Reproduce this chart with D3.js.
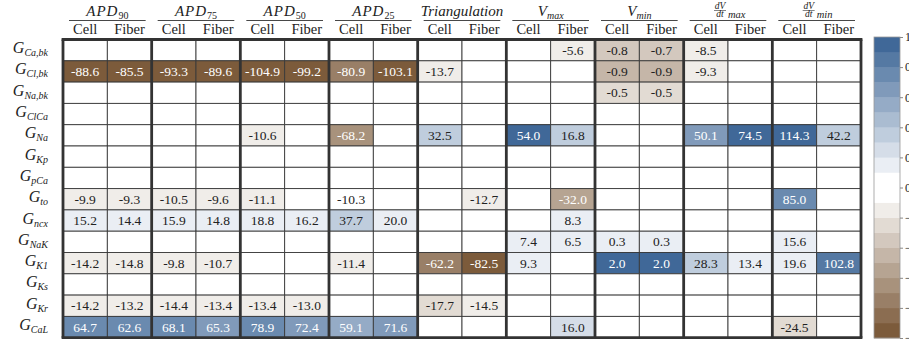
<!DOCTYPE html>
<html><head><meta charset="utf-8">
<script src="https://cdn.jsdelivr.net/npm/d3@7"></script>
<style>body{margin:0;background:#fff}svg{display:block}</style>
</head><body>
<svg id="c" width="909" height="345"></svg>
<script>
// ---------- data ----------
const rows = ["Ca,bk","Cl,bk","Na,bk","ClCa","Na","Kp","pCa","to","ncx","NaK","K1","Ks","Kr","CaL"];
const groups = ["APD90","APD75","APD50","APD25","Triangulation","Vmax","Vmin","dVdtmax","dVdtmin"];
const subCols = ["Cell","Fiber"];
// values per row: 18 columns (group x Cell/Fiber); null = blank
const values = [
  [null,null, null,null, null,null, null,null, null,null, null,-5.6, -0.8,-0.7, -8.5,null, null,null],
  [-88.6,-85.5, -93.3,-89.6, -104.9,-99.2, -80.9,-103.1, -13.7,null, null,null, -0.9,-0.9, -9.3,null, null,null],
  [null,null, null,null, null,null, null,null, null,null, null,null, -0.5,-0.5, null,null, null,null],
  [null,null, null,null, null,null, null,null, null,null, null,null, null,null, null,null, null,null],
  [null,null, null,null, -10.6,null, -68.2,null, 32.5,null, 54.0,16.8, null,null, 50.1,74.5, 114.3,42.2],
  [null,null, null,null, null,null, null,null, null,null, null,null, null,null, null,null, null,null],
  [null,null, null,null, null,null, null,null, null,null, null,null, null,null, null,null, null,null],
  [-9.9,-9.3, -10.5,-9.6, -11.1,null, -10.3,null, null,-12.7, null,-32.0, null,null, null,null, 85.0,null],
  [15.2,14.4, 15.9,14.8, 18.8,16.2, 37.7,20.0, null,null, null,8.3, null,null, null,null, null,null],
  [null,null, null,null, null,null, null,null, null,null, 7.4,6.5, 0.3,0.3, null,null, 15.6,null],
  [-14.2,-14.8, -9.8,-10.7, null,null, -11.4,null, -62.2,-82.5, 9.3,null, 2.0,2.0, 28.3,13.4, 19.6,102.8],
  [null,null, null,null, null,null, null,null, null,null, null,null, null,null, null,null, null,null],
  [-14.2,-13.2, -14.4,-13.4, -13.4,-13.0, null,null, -17.7,-14.5, null,null, null,null, null,null, null,null],
  [64.7,62.6, 68.1,65.3, 78.9,72.4, 59.1,71.6, null,null, null,16.0, null,null, null,null, -24.5,null]
];
const cbTicks = [1,0.8,0.6,0.4,0.2,0,-0.2,-0.4,-0.6,-0.8,-1];

// ---------- layout ----------
const FF = '"Liberation Serif"';
const svg = d3.select("#c");
const X0 = 63, X1 = 861, Y0 = 39.5, Y1 = 337.7;
const colKeys = [];
groups.forEach(g => subCols.forEach(s => colKeys.push(g + "|" + s)));
const x = d3.scaleBand().domain(colKeys).range([X0, X1]);
const gx = d3.scaleBand().domain(groups).range([X0, X1]);
const y = d3.scaleBand().domain(rows).range([Y0, Y1]);

// colour scale: 20 discrete bands, white in the middle two
const blue = d3.rgb(64,104,152), brown = d3.rgb(124,91,59);
const bands = [];
for (let i = 9; i >= 0; i--) bands.push(d3.interpolateRgb("#ffffff", brown)(i/9));
for (let i = 0; i <= 9; i++) bands.push(d3.interpolateRgb("#ffffff", blue)(i/9));
const color = d3.scaleQuantize().domain([-1,1]).range(bands);

// normalise by group max |value|
const gmax = {};
groups.forEach((g, gi) => {
  let m = 0;
  values.forEach(r => { [r[2*gi], r[2*gi+1]].forEach(v => { if (v != null) m = Math.max(m, Math.abs(v)); }); });
  gmax[g] = m;
});

const cells = [];
values.forEach((r, ri) => r.forEach((v, ci) => {
  const g = groups[Math.floor(ci/2)];
  cells.push({row: rows[ri], col: colKeys[ci], v, n: v == null ? 0 : v / gmax[g]});
}));

const cg = svg.append("g");
cg.selectAll("rect").data(cells).join("rect")
  .attr("x", d => x(d.col)).attr("y", d => y(d.row))
  .attr("width", x.bandwidth()).attr("height", y.bandwidth())
  .attr("fill", d => d.v == null ? "#fff" : color(Math.max(-0.999, Math.min(0.999, d.n))))
  .attr("stroke", "#3a3a3a").attr("stroke-width", 0.9);

cg.selectAll("text").data(cells.filter(d => d.v != null)).join("text")
  .attr("x", d => x(d.col) + x.bandwidth()/2)
  .attr("y", d => y(d.row) + y.bandwidth()/2 + 4.6)
  .attr("text-anchor", "middle")
  .style("font-family", FF).style("font-size", "13.5px")
  .attr("fill", d => Math.abs(d.n) >= 0.5 ? "#ffffff" : "#222")
  .text(d => d.v.toFixed(1));

// thick group separators and frame
const sep = svg.append("g");
groups.concat(["__end"]).forEach((g, i) => {
  const xx = i < groups.length ? gx(g) : X1;
  sep.append("line").attr("x1", xx).attr("x2", xx).attr("y1", Y0).attr("y2", Y1)
    .attr("stroke", "#333").attr("stroke-width", 2.8);
});
sep.append("line").attr("x1", X0-1.4).attr("x2", X1+1.4).attr("y1", Y0).attr("y2", Y0).attr("stroke", "#333").attr("stroke-width", 2.8);
sep.append("line").attr("x1", X0-1.4).attr("x2", X1+1.4).attr("y1", Y1).attr("y2", Y1).attr("stroke", "#333").attr("stroke-width", 2.8);

// row labels
const rl = svg.append("g");
rows.forEach(r => {
  const t = rl.append("text").attr("x", 48).attr("y", y(r) + y.bandwidth()/2 + 3)
    .attr("text-anchor", "end").style("font-family", FF).attr("fill", "#222");
  t.append("tspan").style("font-size", "16px").style("font-style", "italic").text("G");
  t.append("tspan").style("font-size", "10px").style("font-style", "italic").attr("dy", 3).text(r);
});

// sub-column headers
const hg = svg.append("g");
colKeys.forEach(k => {
  hg.append("text").attr("x", x(k) + x.bandwidth()/2).attr("y", 34)
    .attr("text-anchor", "middle").style("font-family", FF).style("font-size", "14.5px")
    .attr("fill", "#222").text(k.split("|")[1]);
});

// group headers
groups.forEach(g => {
  const cx = gx(g) + gx.bandwidth()/2;
  hg.append("line").attr("x1", gx(g) + 6).attr("x2", gx(g) + gx.bandwidth() - 6)
    .attr("y1", 20.5).attr("y2", 20.5).attr("stroke", "#333").attr("stroke-width", 0.9);
  if (g.startsWith("APD")) {
    const t = hg.append("text").attr("x", cx).attr("y", 16).attr("text-anchor", "middle").style("font-family", FF).attr("fill", "#222");
    t.append("tspan").style("font-size", "15px").style("font-style", "italic").attr("letter-spacing", 1).text("APD");
    t.append("tspan").style("font-size", "10px").attr("dy", 3).text(g.slice(3));
  } else if (g === "Triangulation") {
    hg.append("text").attr("x", cx).attr("y", 16).attr("text-anchor", "middle").style("font-family", FF)
      .style("font-size", "15px").style("font-style", "italic").attr("fill", "#222").text("Triangulation");
  } else if (g.startsWith("V")) {
    const t = hg.append("text").attr("x", cx).attr("y", 16).attr("text-anchor", "middle").style("font-family", FF).attr("fill", "#222");
    t.append("tspan").style("font-size", "15px").style("font-style", "italic").text("V");
    t.append("tspan").style("font-size", "10px").style("font-style", "italic").attr("dy", 3).text(g.slice(1));
  } else {
    const sub = g.slice(4);
    const fx = cx - 8;
    hg.append("text").attr("x", fx).attr("y", 8.5).attr("text-anchor", "middle").style("font-family", FF)
      .style("font-size", "9.5px").style("font-style", "italic").attr("fill", "#222").text("dV");
    hg.append("line").attr("x1", fx - 6).attr("x2", fx + 6).attr("y1", 10.5).attr("y2", 10.5)
      .attr("stroke", "#333").attr("stroke-width", 0.6);
    hg.append("text").attr("x", fx).attr("y", 17).attr("text-anchor", "middle").style("font-family", FF)
      .style("font-size", "9.5px").style("font-style", "italic").attr("fill", "#222").text("dt");
    hg.append("text").attr("x", fx + 8).attr("y", 18).style("font-family", FF)
      .style("font-size", "10.5px").style("font-style", "italic").attr("fill", "#222").text(sub);
  }
});

// colour bar
const CBX = 874, CBW = 26, CBT = 37, CBB = 338;
const cy = d3.scaleLinear().domain([-1, 1]).range([CBB, CBT]);
const cb = svg.append("g");
bands.forEach((c, i) => {
  const lo = -1 + i * 0.1, hi = lo + 0.1;
  cb.append("rect").attr("x", CBX).attr("y", cy(hi)).attr("width", CBW)
    .attr("height", cy(lo) - cy(hi) + 0.3).attr("fill", c);
});
cb.append("rect").attr("x", CBX).attr("y", CBT).attr("width", CBW).attr("height", CBB - CBT)
  .attr("fill", "none").attr("stroke", "#999").attr("stroke-width", 0.8);
const axis = d3.axisRight(cy).tickValues(cbTicks).tickSize(3).tickPadding(2).tickFormat(d3.format(""));
const ax = cb.append("g").attr("transform", `translate(${CBX + CBW},0)`).call(axis);
ax.select(".domain").remove();
ax.selectAll("line").attr("stroke", "#888");
ax.selectAll("text").style("font-family", FF).style("font-size", "12px").attr("fill", "#222");
</script>
</body></html>
